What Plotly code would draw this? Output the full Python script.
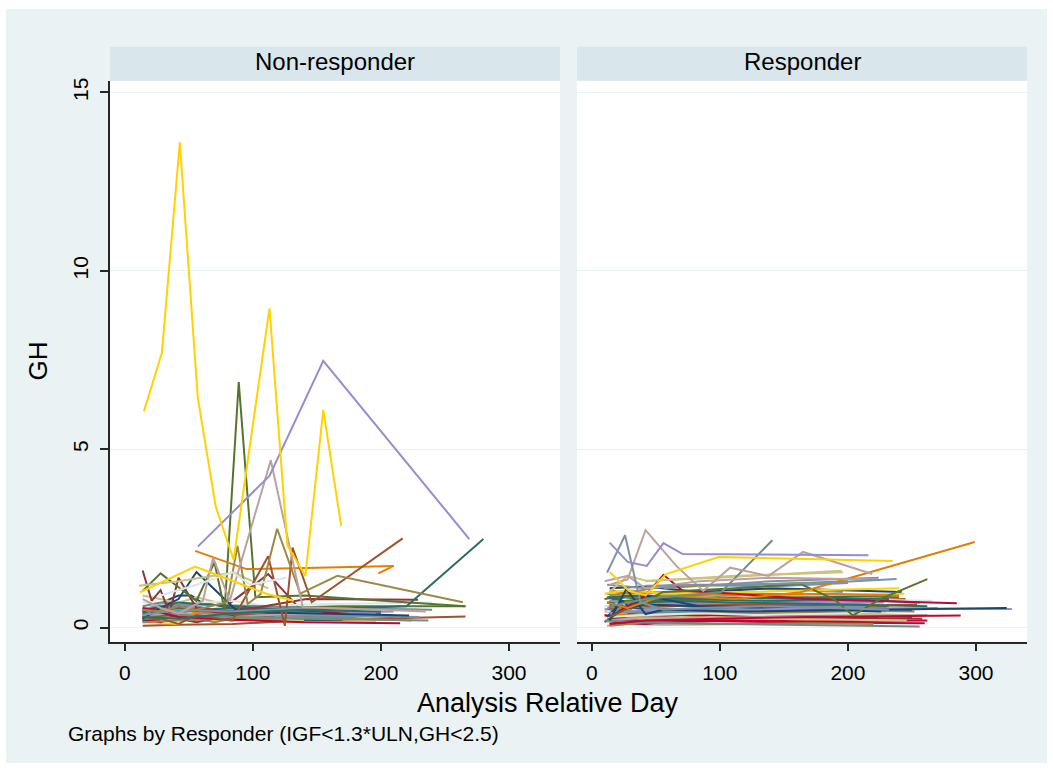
import plotly.graph_objects as go

W, H = 1053, 770

# Stata s2color line palette (p1 .. p15)
PALETTE = ["#1A476F", "#90353B", "#55752F", "#E37E00", "#6E8E84", "#C10534",
           "#938DD2", "#CAC27E", "#A0522D", "#7B92A8", "#2D6D66", "#9C8847",
           "#BFA19C", "#FFD200", "#D9E6EB"]

PANELS = ["Non-responder", "Responder"]
X_TICKS = [0, 100, 200, 300]
Y_TICKS = [0, 5, 10, 15]
X_TITLE = "Analysis Relative Day"
Y_TITLE = "GH"
NOTE = "Graphs by Responder (IGF<1.3*ULN,GH<2.5)"

# ---- Non-responder subjects: visit days and GH values ----
NR_DAYS = [
    [14, 32, 42, 52, 60, 100, 200],
    [14, 28, 42, 70, 112, 140, 210],
    [14, 28, 56, 84, 112, 168, 266],
    [14, 42, 84, 112, 168],
    [14, 28, 56, 84, 140, 196],
    [14, 28, 42, 84, 126],
    [14, 42, 84, 140, 210],
    [14, 42, 56, 84, 140],
    [14, 42, 84, 140, 266],
    [14, 28, 56, 84, 168],
    [14, 28, 42, 84, 112, 196],
    [14, 42, 70, 84, 140, 224],
    [14, 28, 42, 84, 112],
    [14, 42, 56, 84, 112, 140, 196],
    [14, 42, 84, 112, 140, 240],
    [14, 42, 84, 112, 170],
    [14, 28, 42, 56, 84, 140],
    [14, 42, 84, 126, 196],
    [14, 28, 42, 70, 98, 140],
    [14, 42, 56, 84, 112, 180],
    [14, 28, 42, 84, 140],
    [14, 28, 84, 140, 196],
    [28, 56, 98, 140],
    [14, 42, 84, 112, 126, 184],
    [14, 56, 84, 140, 230],
    [14, 28, 56, 84, 140],
    [14, 42, 84, 126],
    [14, 42, 84, 140, 210],
    [14, 28, 56, 98, 154, 240],
    [14, 42, 70, 112, 168],
    [14, 28, 42, 84, 126, 200],
    [14, 21, 42, 70, 112, 154],
    [14, 28, 42, 56, 86, 112, 168, 222],
    [14, 21, 28, 35, 42, 56, 84, 142, 229],
    [14, 28, 42, 56, 70, 78, 89, 102, 140, 266],
    [55, 95, 150, 210, 198],
    [14, 42, 84, 140, 237],
    [14, 28, 42, 84, 140, 215],
    [11, 42, 85, 112],
    [14, 28, 42, 56, 84, 112, 125, 131, 146, 217],
    [14, 42, 84, 140, 230],
    [14, 42, 84, 140, 220, 280],
    [14, 28, 42, 56, 80, 88, 96, 106, 119, 137, 166, 264],
    [14, 28, 42, 61, 69, 82, 114, 139, 200, 235],
    [28, 56, 84, 98, 126],
    [12, 55, 111, 132],
    [57, 113, 155, 269],
    [15, 29, 43, 57, 71, 85, 113, 127, 141, 155, 169],
]
NR_GH = [
    [0.35, 0.75, 0.9, 0.9, 0.7, 0.45, 0.4],
    [0.45, 0.3, 0.55, 0.35, 1.5, 0.4, 0.3],
    [0.2, 0.35, 0.5, 0.45, 0.55, 0.6, 0.6],
    [0.25, 0.3, 0.2, 0.35, 0.3],
    [0.15, 0.3, 0.4, 0.35, 0.3, 0.25],
    [0.35, 0.45, 0.25, 0.3, 0.2],
    [0.4, 0.45, 0.5, 0.4, 0.45],
    [0.9, 0.7, 0.85, 0.6, 0.5],
    [0.05, 0.08, 0.1, 0.2, 0.31],
    [0.5, 0.65, 0.6, 0.4, 0.35],
    [0.2, 0.15, 0.3, 0.25, 0.2, 0.15],
    [0.3, 0.35, 0.15, 0.25, 0.3, 0.2],
    [0.6, 0.35, 0.5, 0.3, 0.35],
    [0.15, 0.1, 0.55, 0.25, 0.2, 0.15, 0.18],
    [0.7, 0.65, 0.75, 0.6, 0.65, 0.7],
    [0.2, 0.3, 0.35, 0.25, 0.22],
    [0.3, 0.2, 0.25, 0.15, 0.35, 0.3],
    [0.25, 0.4, 0.3, 0.45, 0.35],
    [0.45, 0.4, 0.55, 0.3, 0.25, 0.3],
    [0.3, 0.45, 0.35, 0.4, 0.35, 0.3],
    [0.25, 0.15, 0.35, 0.25, 0.2],
    [0.55, 0.5, 0.45, 0.55, 0.4],
    [0.2, 0.3, 0.25, 0.2],
    [0.45, 0.5, 0.4, 0.3, 0.55, 0.35],
    [0.25, 0.3, 0.2, 0.35, 0.3],
    [0.45, 0.6, 0.5, 0.55, 0.45],
    [0.15, 0.2, 0.25, 0.2],
    [0.35, 0.4, 0.3, 0.4, 0.35],
    [0.6, 0.7, 0.65, 0.6, 0.55, 0.5],
    [0.5, 0.6, 0.45, 0.5, 0.4],
    [0.4, 0.55, 0.7, 0.6, 0.5, 0.45],
    [0.55, 0.4, 0.65, 0.5, 0.45, 0.4],
    [0.25, 0.55, 0.8, 1.56, 0.52, 0.42, 0.38, 0.34],
    [1.6, 0.75, 1.05, 0.4, 1.4, 0.55, 0.45, 0.8, 0.78],
    [1.03, 1.52, 1.13, 0.75, 1.83, 0.5, 6.88, 0.85, 0.9, 0.6],
    [2.15, 1.64, 1.68, 1.73, 1.52],
    [0.5, 0.35, 0.3, 0.25, 0.2],
    [0.55, 0.42, 0.3, 0.22, 0.15, 0.12],
    [1.17, 1.3, 1.54, 1.1],
    [0.3, 0.25, 0.1, 0.35, 0.2, 2.0, 0.05, 2.24, 0.71, 2.5],
    [0.35, 0.5, 0.45, 0.55, 0.5],
    [0.3, 0.25, 0.4, 0.5, 0.6, 2.48],
    [0.5, 0.45, 0.6, 0.5, 0.71, 2.29, 0.66, 0.94, 2.77, 0.95, 1.45, 0.71],
    [0.8, 0.55, 0.4, 0.75, 1.96, 0.75, 4.69, 0.57, 0.5, 0.45],
    [0.9, 1.2, 1.55, 1.2, 1.4],
    [0.99, 1.71, 0.94, 0.75],
    [2.27, 4.25, 7.48, 2.48],
    [6.06, 7.7, 13.6, 6.45, 3.4, 1.9, 8.95, 2.3, 1.45, 6.1, 2.85],
]
NR_COLOR = [0, 1, 2, 3, 4, 5, 6, 7, 8, 9, 10, 11, 12, 13, 14,
            0, 1, 2, 3, 4, 5, 6, 7, 8, 9, 10, 11, 12, 4, 5, 10, 9,
            0, 1, 2, 3, 4, 5, 7, 8, 9, 10, 11, 12, 14, 13, 6, 13]

# ---- Responder subjects ----
R_DAYS = [
    [12, 28, 56, 112, 224],
    [14, 42, 84, 168, 250],
    [10, 28, 56, 98, 196, 240],
    [14, 42, 70, 140, 210],
    [12, 26, 42, 84, 140, 226],
    [14, 28, 56, 112, 168, 262],
    [14, 42, 84, 126, 196],
    [10, 28, 70, 140, 230],
    [14, 28, 42, 98, 182, 245],
    [12, 42, 84, 168, 236],
    [14, 56, 98, 154, 210],
    [14, 28, 42, 84, 140, 252],
    [12, 28, 56, 112, 196],
    [14, 42, 70, 126, 224],
    [10, 28, 56, 84, 168, 266],
    [14, 42, 84, 140, 196, 242],
    [12, 28, 70, 112, 224],
    [14, 26, 56, 98, 168, 232],
    [14, 42, 84, 140, 210],
    [12, 28, 56, 126, 238],
    [14, 42, 70, 140, 260],
    [10, 28, 42, 84, 154, 218],
    [14, 56, 112, 196, 248],
    [14, 28, 42, 98, 168, 230],
    [12, 42, 84, 140, 200],
    [14, 28, 70, 126, 196, 256],
    [14, 42, 98, 168, 220],
    [10, 28, 56, 84, 140, 236],
    [14, 42, 84, 154, 244],
    [12, 28, 42, 70, 112, 210],
    [14, 56, 98, 168, 226],
    [14, 28, 42, 84, 126, 258],
    [12, 42, 70, 140, 214],
    [14, 28, 56, 112, 182, 240],
    [14, 42, 84, 168, 270],
    [10, 28, 56, 98, 196],
    [14, 42, 84, 140, 228],
    [12, 28, 70, 126, 246],
    [14, 56, 112, 196, 254],
    [14, 28, 42, 84, 140, 216],
    [12, 42, 84, 168, 232],
    [14, 28, 56, 98, 210],
    [14, 42, 70, 140, 262],
    [10, 28, 56, 112, 168, 240],
    [14, 42, 84, 126, 204],
    [12, 28, 42, 84, 154, 250],
    [42, 112, 196],
    [56, 140, 224],
    [14, 56, 126, 200],
    [10, 28, 56, 112, 196, 262],
    [12, 24, 30, 42, 84, 168, 230],
    [10, 42, 112, 196, 256],
    [14, 42, 84, 168, 328],
    [14, 27, 42, 56, 112, 200, 324],
    [14, 42, 98, 168, 288],
    [14, 42, 56, 71, 112, 168, 285],
    [14, 28, 43, 98, 195],
    [14, 56, 112, 163, 189, 204, 225, 262],
    [12, 28, 56, 112, 163, 299],
    [14, 42, 70, 101, 141],
    [10, 28, 42, 84, 140, 222],
    [14, 28, 42, 66, 87, 108, 138, 165, 219],
    [42, 100, 180, 238],
    [12, 26, 38, 56, 84, 140, 232],
    [14, 29, 42, 58, 99, 235],
    [14, 28, 43, 56, 71, 216],
]
R_GH = [
    [0.5, 0.6, 0.65, 0.6, 0.55],
    [0.3, 0.45, 0.4, 0.35, 0.3],
    [0.8, 0.9, 0.85, 0.95, 0.9, 0.85],
    [0.15, 0.25, 0.2, 0.25, 0.2],
    [0.6, 0.4, 0.75, 0.7, 0.65, 0.6],
    [0.1, 0.2, 0.15, 0.2, 0.18, 0.2],
    [1.0, 0.95, 1.05, 1.1, 1.0],
    [0.45, 0.35, 0.4, 0.5, 0.45],
    [0.7, 0.55, 0.6, 0.7, 0.75, 0.8],
    [0.25, 0.3, 0.35, 0.4, 0.35],
    [0.9, 0.8, 0.85, 0.8, 0.9],
    [0.35, 0.5, 0.45, 0.55, 0.5, 0.45],
    [0.05, 0.1, 0.08, 0.1, 0.12],
    [0.55, 0.65, 0.6, 0.55, 0.6],
    [0.6, 0.7, 0.75, 0.7, 0.8, 0.75],
    [1.1, 1.15, 1.0, 1.1, 1.05, 1.0],
    [0.2, 0.35, 0.3, 0.25, 0.3],
    [0.75, 0.85, 0.7, 0.65, 0.7, 0.6],
    [0.4, 0.3, 0.35, 0.3, 0.35],
    [0.95, 0.85, 0.9, 0.95, 0.9],
    [0.15, 0.1, 0.2, 0.15, 0.12],
    [0.5, 0.75, 0.6, 0.65, 0.7, 0.75],
    [0.3, 0.4, 0.45, 0.4, 0.35],
    [0.65, 0.6, 0.5, 0.55, 0.6, 0.55],
    [1.2, 1.1, 1.2, 1.15, 1.25],
    [0.85, 0.7, 0.8, 0.75, 0.8, 0.7],
    [0.05, 0.15, 0.1, 0.12, 0.1],
    [0.3, 0.55, 0.5, 0.45, 0.55, 0.5],
    [0.9, 1.0, 0.95, 0.9, 0.95],
    [0.45, 0.6, 0.35, 0.4, 0.45, 0.4],
    [0.6, 0.5, 0.55, 0.5, 0.45],
    [0.25, 0.2, 0.3, 0.25, 0.3, 0.25],
    [0.7, 0.8, 0.75, 0.85, 0.8],
    [1.05, 0.95, 1.0, 0.9, 0.95, 0.9],
    [0.5, 0.4, 0.45, 0.5, 0.55],
    [0.35, 0.25, 0.3, 0.35, 0.3],
    [0.75, 0.65, 0.7, 0.65, 0.7],
    [0.15, 0.25, 0.3, 0.25, 0.2],
    [0.55, 0.6, 0.65, 0.6, 0.65],
    [0.4, 0.65, 0.55, 0.5, 0.55, 0.6],
    [0.85, 0.9, 0.8, 0.85, 0.8],
    [0.6, 0.45, 0.5, 0.4, 0.45],
    [0.2, 0.3, 0.25, 0.3, 0.35],
    [0.95, 1.05, 0.95, 1.0, 1.05, 1.1],
    [0.3, 0.35, 0.4, 0.35, 0.4],
    [0.7, 0.55, 0.65, 0.6, 0.55, 0.5],
    [1.3, 1.45, 1.55],
    [1.1, 1.3, 1.4],
    [0.9, 1.15, 1.2, 1.3],
    [0.15, 0.6, 0.75, 0.7, 0.65, 0.6],
    [0.3, 0.75, 0.55, 0.9, 0.6, 0.55, 0.5],
    [0.2, 0.15, 0.1, 0.05, 0.03],
    [0.4, 0.5, 0.45, 0.55, 0.52],
    [0.2, 1.08, 0.38, 0.5, 0.45, 0.5, 0.55],
    [0.1, 0.2, 0.25, 0.3, 0.34],
    [0.3, 0.9, 1.48, 1.03, 0.95, 0.8, 0.68],
    [1.0, 1.45, 1.31, 1.4, 1.59],
    [0.3, 1.0, 1.1, 1.22, 0.8, 0.34, 0.8, 1.36],
    [0.7, 0.55, 0.9, 0.8, 0.99, 2.4],
    [0.6, 0.8, 0.9, 0.99, 2.45],
    [1.3, 1.45, 1.1, 1.3, 1.4, 1.35],
    [1.2, 1.35, 2.73, 1.73, 1.03, 1.68, 1.45, 2.12, 1.5],
    [1.17, 1.2, 1.25, 1.36],
    [1.54, 2.59, 0.71, 0.5, 0.55, 0.6, 0.5],
    [1.56, 1.03, 0.9, 1.5, 1.98, 1.87],
    [2.38, 1.84, 1.73, 2.37, 2.06, 2.03],
]
R_COLOR = [i % 15 for i in range(46)] + [7, 9, 11, 10, 0, 4, 6, 0, 5, 5, 7, 2, 3, 4, 12, 12, 9, 9, 13, 6]

# ---- geometry (pixels) ----
BG_COLOR = "#EAF2F3"
STRIP_COLOR = "#D9E6EB"
AXIS_COLOR = "#262626"
FONT = "Arial, Liberation Sans, Helvetica, sans-serif"
LINE_WIDTH = 2.0

PANEL_X = [(110, 560), (577, 1027)]
PLOT_TOP, PLOT_BOTTOM = 78, 641
STRIP_TOP = 44
X_RANGE = [-11.5, 339.8]
Y_RANGE = [-0.39, 15.33]


def px_x(p):
    return p / W


def px_y(p):
    return 1 - p / H


fig = go.Figure()

for days, gh, cidx in zip(NR_DAYS, NR_GH, NR_COLOR):
    fig.add_trace(go.Scatter(x=days, y=gh, mode="lines", xaxis="x", yaxis="y",
                             line=dict(color=PALETTE[cidx], width=LINE_WIDTH),
                             showlegend=False, hoverinfo="skip"))
for days, gh, cidx in zip(R_DAYS, R_GH, R_COLOR):
    fig.add_trace(go.Scatter(x=days, y=gh, mode="lines", xaxis="x2", yaxis="y2",
                             line=dict(color=PALETTE[cidx], width=LINE_WIDTH),
                             showlegend=False, hoverinfo="skip"))

shapes = [dict(type="rect", xref="paper", yref="paper", layer="below",
               x0=px_x(6), x1=px_x(1047), y0=px_y(763), y1=px_y(6),
               fillcolor=BG_COLOR, line=dict(width=0))]
annotations = []
for (left, right), label in zip(PANEL_X, PANELS):
    shapes.append(dict(type="rect", xref="paper", yref="paper", layer="below",
                       x0=px_x(left), x1=px_x(right), y0=px_y(PLOT_BOTTOM), y1=px_y(PLOT_TOP),
                       fillcolor="white", line=dict(width=0)))
    shapes.append(dict(type="rect", xref="paper", yref="paper", layer="below",
                       x0=px_x(left), x1=px_x(right), y0=px_y(PLOT_TOP), y1=px_y(STRIP_TOP),
                       fillcolor=STRIP_COLOR, line=dict(width=0)))
    annotations.append(dict(text=label, xref="paper", yref="paper",
                            x=px_x((left + right) / 2), y=px_y(59), xanchor="center", yanchor="middle",
                            showarrow=False, font=dict(family=FONT, size=24, color="black")))

annotations.append(dict(text=X_TITLE, xref="paper", yref="paper", x=px_x(548), y=px_y(703),
                        xanchor="center", yanchor="middle", showarrow=False,
                        font=dict(family=FONT, size=27, color="black")))
annotations.append(dict(text=Y_TITLE, xref="paper", yref="paper", x=px_x(38), y=px_y(360),
                        xanchor="center", yanchor="middle", showarrow=False, textangle=-90,
                        font=dict(family=FONT, size=26, color="black")))
annotations.append(dict(text=NOTE, xref="paper", yref="paper", x=px_x(66), y=px_y(733),
                        xanchor="left", yanchor="middle", showarrow=False,
                        font=dict(family=FONT, size=21, color="black")))

x_common = dict(range=X_RANGE, tickvals=X_TICKS, ticks="outside", ticklen=8, tickwidth=1.5,
                tickcolor=AXIS_COLOR, showline=True, linecolor=AXIS_COLOR, linewidth=1.6,
                showgrid=False, zeroline=False, ticklabelstandoff=3,
                tickfont=dict(family=FONT, size=21, color="black"))
y_common = dict(range=Y_RANGE, tickvals=Y_TICKS, showgrid=True, gridcolor=BG_COLOR, gridwidth=1.2,
                zeroline=False)

fig.update_layout(
    width=W, height=H,
    margin=dict(l=0, r=0, t=0, b=0),
    paper_bgcolor="white",
    plot_bgcolor="rgba(0,0,0,0)",
    showlegend=False,
    shapes=shapes,
    annotations=annotations,
    xaxis=dict(domain=[px_x(PANEL_X[0][0]), px_x(PANEL_X[0][1])], anchor="y", **x_common),
    xaxis2=dict(domain=[px_x(PANEL_X[1][0]), px_x(PANEL_X[1][1])], anchor="y2", **x_common),
    yaxis=dict(domain=[px_y(PLOT_BOTTOM), px_y(PLOT_TOP)], anchor="x",
               ticks="outside", ticklen=8, tickwidth=1.5, tickcolor=AXIS_COLOR,
               showline=True, linecolor=AXIS_COLOR, linewidth=1.6, tickangle=-90,
               ticklabelstandoff=4,
               tickfont=dict(family=FONT, size=21, color="black"), **y_common),
    yaxis2=dict(domain=[px_y(PLOT_BOTTOM), px_y(PLOT_TOP)], anchor="x2", matches="y",
                showticklabels=False, ticks="", showline=False, **y_common),
)

fig.write_html("out.html")
